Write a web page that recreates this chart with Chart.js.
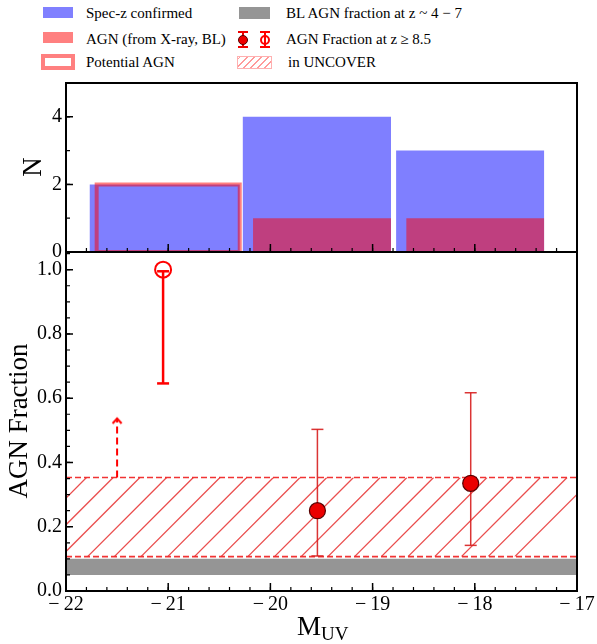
<!DOCTYPE html>
<html>
<head>
<meta charset="utf-8">
<script src="https://cdn.jsdelivr.net/npm/chart.js@4.4.1/dist/chart.umd.min.js"></script>
<style>
  body { margin: 0; background: #fff; }
  #wrap { position: relative; width: 597px; height: 644px; font-family: "Liberation Serif", "Times New Roman", serif; color: #000; }
  .box { position: absolute; left: 0; width: 597px; }
  .lg { position: absolute; font-size: 15px; line-height: 20px; white-space: nowrap; }
  .patch { position: absolute; box-sizing: border-box; }
  .rot { position: absolute; white-space: nowrap; transform: translate(-50%, -50%) rotate(-90deg); font-size: 27px; }
</style>
</head>
<body>
<div id="wrap">
  <!-- legend -->
  <div class="patch" style="left:43px;top:7px;width:30px;height:11px;background:#8080ff"></div>
  <div class="lg" style="left:86px;top:3px">Spec-z confirmed</div>
  <div class="patch" style="left:43px;top:32px;width:30px;height:11px;background:#ff8080"></div>
  <div class="lg" style="left:86px;top:29px">AGN (from X-ray, BL)</div>
  <div class="patch" style="left:41px;top:54px;width:34px;height:16px;border:4px solid #ff8080;background:#fff"></div>
  <div class="lg" style="left:86px;top:52px">Potential AGN</div>

  <div class="patch" style="left:239px;top:7px;width:31px;height:12px;background:#959595"></div>
  <div class="lg" style="left:286px;top:3px">BL AGN fraction at z ~ 4 &minus; 7</div>
  <div class="patch" style="left:242px;top:32px;width:2px;height:16px;background:#e00"></div>
  <div class="patch" style="left:238px;top:31px;width:10px;height:2px;background:#e00"></div>
  <div class="patch" style="left:238px;top:46px;width:10px;height:2px;background:#e00"></div>
  <div class="patch" style="left:238px;top:35px;width:10px;height:10px;border-radius:50%;background:#e00;border:1px solid #500"></div>
  <div class="patch" style="left:264px;top:32px;width:2px;height:16px;background:#f00"></div>
  <div class="patch" style="left:260px;top:31px;width:10px;height:2px;background:#f00"></div>
  <div class="patch" style="left:260px;top:46px;width:10px;height:2px;background:#f00"></div>
  <div class="patch" style="left:260px;top:35px;width:10px;height:10px;border-radius:50%;border:2px solid #f00"></div>
  <div class="lg" style="left:286px;top:29px">AGN Fraction at z&#8201;&ge; 8.5</div>
  <div class="patch" style="left:237px;top:56px;width:35px;height:13px;border:1px solid #ffb0b0;background:repeating-linear-gradient(-45deg, #fff 0 4px, #ff9a9a 4px 5px)"></div>
  <div class="lg" style="left:288px;top:52px">in UNCOVER</div>

  <div class="box" style="top:70px;height:200px"><canvas id="topChart"></canvas></div>
  <div class="box" style="top:240px;height:404px"><canvas id="botChart"></canvas></div>

  <div class="rot" style="left:32px;top:167px">N</div>
  <div class="rot" style="left:18px;top:421px">AGN Fraction</div>
  <div style="position:absolute;left:297px;top:611px;font-size:27px;white-space:nowrap">M<span style="font-size:19px;position:relative;top:5px">UV</span></div>
</div>

<script>
// axes
const xMajor = [-22, -21, -20, -19, -18, -17];
const nTicks = [0, 2, 4];
const fracTicks = [0, 0.2, 0.4, 0.6, 0.8, 1.0];

// top panel: histograms
const speczLeft = [-21.77, -20.27, -18.77];
const speczRight = [-20.30, -18.82, -17.32];
const speczN = [2, 4, 3];
const agnLeft = [-20.17, -18.67];
const agnRight = [-18.82, -17.32];
const agnN = [1, 1];
const potLeft = [-21.70];
const potRight = [-20.30];
const potN = [2];

// bottom panel: AGN fraction
const detM = [-19.54, -18.04];
const detFrac = [0.25, 0.335];
const detLo = [0.109, 0.142];
const detHi = [0.503, 0.617];
const potFracM = [-21.05];
const potFrac = [1.0];
const potFracLo = [0.646];
const potFracHi = [0.995];
const limitM = -21.5;
const limitFrom = 0.353;
const limitTo = 0.537;
const uncoverLo = 0.107;
const uncoverHi = 0.353;
const blLo = 0.05;
const blHi = 0.10;

const FONT = '"Liberation Serif", "Times New Roman", serif';

function steps(a, b, s) {
  const out = [];
  for (let v = a; v <= b + 1e-9; v += s) out.push(+v.toFixed(3));
  return out;
}

function histPoints(lefts, rights, counts, close) {
  const pts = [];
  lefts.forEach((l, i) => {
    pts.push({x: l, y: 0}, {x: l, y: counts[i]}, {x: rights[i], y: counts[i]}, {x: rights[i], y: 0});
    if (close) pts.push({x: l, y: 0});
  });
  return pts;
}

// inward ticks + box frame
function frameTicks(marks) {
  return {
    id: 'frameTicks',
    afterDraw(chart) {
      const {ctx, chartArea: a, scales} = chart;
      ctx.save();
      ctx.strokeStyle = '#000';
      marks.forEach(m => {
        const sc = scales[m.axis];
        ctx.lineWidth = m.width;
        ctx.beginPath();
        m.values.forEach(v => {
          const p = sc.getPixelForValue(v);
          if (m.axis === 'x') { ctx.moveTo(p, a.bottom); ctx.lineTo(p, a.bottom - m.len); }
          else { ctx.moveTo(a.left, p); ctx.lineTo(a.left + m.len, p); }
        });
        ctx.stroke();
      });
      ctx.lineWidth = 2;
      ctx.strokeRect(a.left, a.top, a.right - a.left, a.bottom - a.top);
      ctx.restore();
    }
  };
}

// diagonal hatching of the UNCOVER band
const hatchBand = {
  id: 'hatchBand',
  beforeDatasetsDraw(chart) {
    const {ctx, chartArea: a, scales: {y}} = chart;
    const top = y.getPixelForValue(uncoverHi), bot = y.getPixelForValue(uncoverLo);
    const h = bot - top, gap = 26.7;
    ctx.save();
    ctx.beginPath();
    ctx.rect(a.left, top, a.right - a.left, h);
    ctx.clip();
    ctx.strokeStyle = 'rgba(232,60,60,0.9)';
    ctx.lineWidth = 1.3;
    ctx.beginPath();
    for (let xt = a.left + 20.5 - Math.ceil(h / gap) * gap; xt < a.right + gap; xt += gap) {
      ctx.moveTo(xt - h, bot);
      ctx.lineTo(xt, top);
    }
    ctx.stroke();
    ctx.restore();
  }
};

function noPad(s) {
  s.paddingTop = 0; s.paddingBottom = 0; s.paddingLeft = 0; s.paddingRight = 0;
}

function yScale(min, max, ticks, fmt) {
  return {
    type: 'linear', min: min, max: max,
    afterBuildTicks: s => { s.ticks = ticks.map(v => ({value: v})); },
    afterFit: s => { s.width = 66; noPad(s); },
    grid: {display: false, drawTicks: false},
    border: {display: false},
    ticks: {padding: 4, color: '#000', font: {family: FONT, size: 20}, callback: fmt}
  };
}

// top chart
new Chart(document.getElementById('topChart'), {
  type: 'line',
  data: {
    datasets: [
      {data: histPoints(potLeft, potRight, potN, true), borderColor: 'rgba(255,0,0,0.5)', borderWidth: 4,
       fill: false, pointRadius: 0, order: 1, borderJoinStyle: 'miter'},
      {data: histPoints(agnLeft, agnRight, agnN), borderWidth: 0, backgroundColor: 'rgba(255,0,0,0.5)',
       fill: 'origin', pointRadius: 0, order: 2},
      {data: histPoints(speczLeft, speczRight, speczN), borderWidth: 0, backgroundColor: 'rgba(0,0,255,0.5)',
       fill: 'origin', pointRadius: 0, order: 3}
    ]
  },
  options: {
    responsive: true, maintainAspectRatio: false, animation: false,
    layout: {padding: {top: 13, right: 20, bottom: 18, left: 0}},
    plugins: {legend: {display: false}, tooltip: {enabled: false}},
    scales: {
      x: {type: 'linear', min: -22, max: -17, display: false},
      y: yScale(0, 5, nTicks, v => String(v))
    }
  },
  plugins: [frameTicks([
    {axis: 'x', values: xMajor, len: 8, width: 1.5},
    {axis: 'x', values: steps(-22, -17, 0.2), len: 4, width: 1.2},
    {axis: 'y', values: nTicks, len: 7, width: 1.5},
    {axis: 'y', values: steps(0, 5, 1), len: 4, width: 1.2}
  ])]
});

// bottom chart
const chevron = document.createElement('canvas');
chevron.width = 16; chevron.height = 16;
const cg = chevron.getContext('2d');
cg.strokeStyle = '#f00';
cg.lineWidth = 2;
cg.beginPath();
cg.moveTo(3.5, 13); cg.lineTo(8, 8); cg.lineTo(12.5, 13);
cg.stroke();

const band = y => [{x: -22, y: y}, {x: -17, y: y}];

const errSets = [];
detM.forEach((m, i) => {
  errSets.push({data: [{x: m, y: detLo[i]}, {x: m, y: detHi[i]}], borderColor: 'rgba(215,30,30,0.9)', borderWidth: 1.5,
    pointStyle: 'line', pointRadius: 6, pointBorderWidth: 1.5, pointBorderColor: 'rgba(215,30,30,0.9)', order: 3});
});
potFracM.forEach((m, i) => {
  errSets.push({data: [{x: m, y: potFracLo[i]}, {x: m, y: potFracHi[i]}], borderColor: '#f00', borderWidth: 2.5,
    pointStyle: 'line', pointRadius: 6, pointBorderWidth: 2.5, pointBorderColor: '#f00', order: 3});
});

new Chart(document.getElementById('botChart'), {
  type: 'line',
  data: {
    datasets: [
      {data: band(blHi), borderWidth: 0, backgroundColor: '#959595', fill: '+1', pointRadius: 0, order: 10},
      {data: band(blLo), borderWidth: 0, fill: false, pointRadius: 0, order: 10},
      {data: band(uncoverHi), borderColor: 'rgba(240,30,30,0.9)', borderWidth: 1.6, borderDash: [6, 3],
       fill: false, pointRadius: 0, order: 8},
      {data: band(uncoverLo), borderColor: 'rgba(240,30,30,0.9)', borderWidth: 1.6, borderDash: [6, 3],
       fill: false, pointRadius: 0, order: 8},
      {data: [{x: limitM, y: limitFrom}, {x: limitM, y: limitTo}], borderColor: '#f00', borderWidth: 2,
       borderDash: [7, 4], pointRadius: [0, 8], pointStyle: ctx => ctx.dataIndex === 1 ? chevron : 'circle', order: 4},
      ...errSets,
      {data: detM.map((m, i) => ({x: m, y: detFrac[i]})), showLine: false, pointRadius: 8,
       pointBackgroundColor: 'rgb(235,0,0)', pointBorderColor: '#500', pointBorderWidth: 1.2, order: 1},
      {data: potFracM.map((m, i) => ({x: m, y: potFrac[i]})), showLine: false, pointRadius: 8,
       pointBackgroundColor: 'rgba(255,255,255,0)', pointBorderColor: '#f00', pointBorderWidth: 2, order: 1}
    ]
  },
  options: {
    responsive: true, maintainAspectRatio: false, animation: false,
    layout: {padding: {top: 12, right: 20, bottom: 0, left: 0}},
    plugins: {legend: {display: false}, tooltip: {enabled: false}},
    scales: {
      x: {
        type: 'linear', min: -22, max: -17,
        afterBuildTicks: s => { s.ticks = xMajor.map(v => ({value: v})); },
        afterFit: s => { s.height = 53; noPad(s); },
        grid: {display: false, drawTicks: false},
        border: {display: false},
        ticks: {padding: 2, color: '#000', font: {family: FONT, size: 20}, maxRotation: 0, autoSkip: false,
                callback: v => '\u2212\u2009' + Math.abs(v)}
      },
      y: yScale(0, 1.055, fracTicks, v => v.toFixed(1))
    }
  },
  plugins: [hatchBand, frameTicks([
    {axis: 'x', values: xMajor, len: 8, width: 1.5},
    {axis: 'x', values: steps(-22, -17, 0.2), len: 4, width: 1.2},
    {axis: 'y', values: fracTicks, len: 7, width: 1.5},
    {axis: 'y', values: steps(0, 1.05, 0.05), len: 4, width: 1.2}
  ])]
});
</script>
</body>
</html>
